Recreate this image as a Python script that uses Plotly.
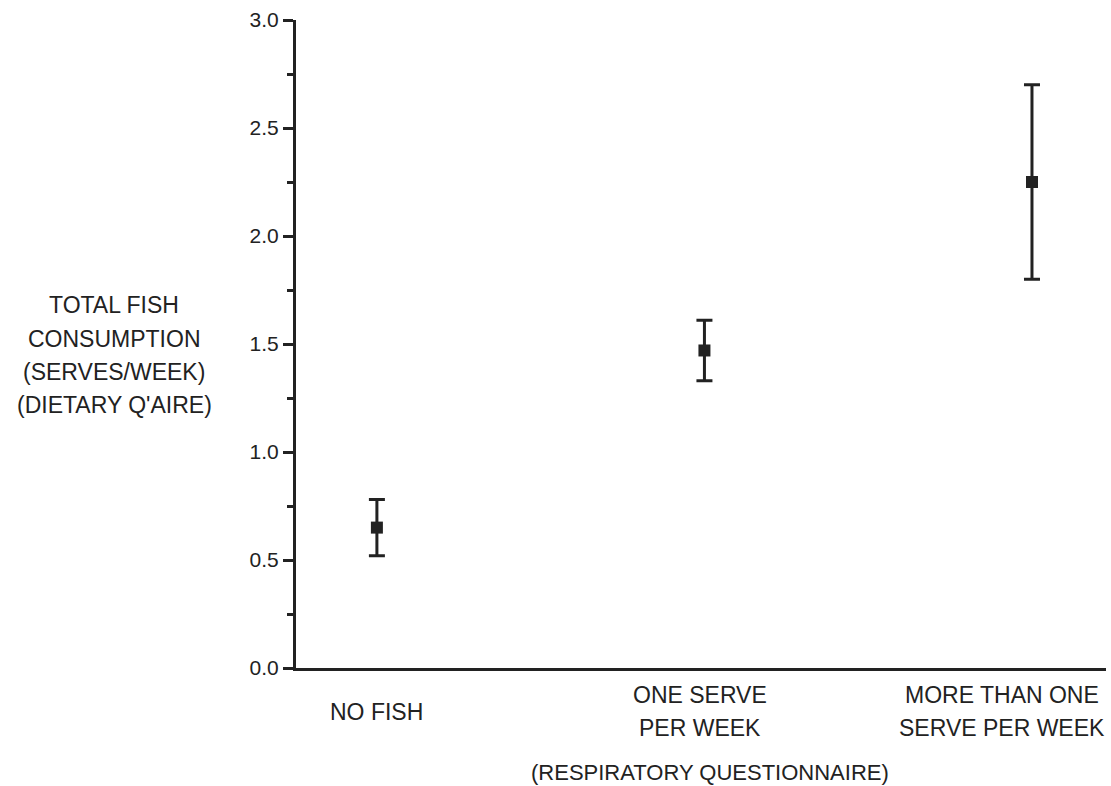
import plotly.graph_objects as go

categories = ["NO FISH", "ONE SERVE<br>PER WEEK", "MORE THAN ONE<br>SERVE PER WEEK"]
x_pos = [0, 1, 2]
means = [0.65, 1.47, 2.25]
upper = [0.78, 1.61, 2.70]
lower = [0.52, 1.33, 1.80]
y_ticks = [0.0, 0.5, 1.0, 1.5, 2.0, 2.5, 3.0]
y_ticklabels = ["0.0", "0.5", "1.0", "1.5", "2.0", "2.5", "3.0"]
y_title_lines = ["TOTAL FISH", "CONSUMPTION", "(SERVES/WEEK)", "(DIETARY Q'AIRE)"]
x_title = "(RESPIRATORY QUESTIONNAIRE)"

INK = "#222222"
FONT = "Liberation Sans, Arial, Helvetica, sans-serif"

W, H = 1111, 786
L, R, T, B = 296, 5, 20, 118
PLOT_BOTTOM = H - B  # 668

fig = go.Figure()
fig.add_trace(go.Scatter(
    x=x_pos, y=means, mode="markers",
    marker=dict(symbol="square", size=12, color=INK),
    error_y=dict(type="data", symmetric=False,
                 array=[u - m for u, m in zip(upper, means)],
                 arrayminus=[m - l for m, l in zip(means, lower)],
                 thickness=3, width=8, color=INK),
    showlegend=False, hoverinfo="skip",
))

fig.update_layout(
    width=W, height=H,
    margin=dict(l=L, r=R, t=T, b=B),
    paper_bgcolor="white", plot_bgcolor="white",
    font=dict(family=FONT, color=INK, size=21),
    xaxis=dict(range=[-0.247, 2.226], showline=True, linewidth=3, linecolor=INK,
               showgrid=False, zeroline=False, showticklabels=False, ticks=""),
    yaxis=dict(range=[0, 3], showline=True, linewidth=3, linecolor=INK,
               showgrid=False, zeroline=False,
               tickvals=y_ticks, ticktext=y_ticklabels,
               ticks="outside", ticklen=10, tickwidth=3, tickcolor=INK,
               tickfont=dict(size=21, family=FONT, color=INK),
               minor=dict(dtick=0.25, ticks="outside", ticklen=6, tickwidth=3, tickcolor=INK)),
)

annotations = []
# category labels (split into lines for exact spacing)
cat_layout = [
    (0, 0, [712]),
    (1, -4, [695, 728]),
    (2, -30, [695, 728]),
]
for (xi, xs, ys), label in zip(cat_layout, categories):
    lines = label.split("<br>")
    for line, py in zip(lines, ys):
        annotations.append(dict(text=line, x=x_pos[xi], xref="x", xshift=xs,
                                y=0, yref="paper", yshift=PLOT_BOTTOM - py,
                                xanchor="center", yanchor="middle", showarrow=False,
                                font=dict(size=23, family=FONT, color=INK)))
# x title
annotations.append(dict(text=x_title, x=1, xref="x", xshift=6,
                        y=0, yref="paper", yshift=PLOT_BOTTOM - 772,
                        xanchor="center", yanchor="middle", showarrow=False,
                        font=dict(size=22, family=FONT, color=INK)))
# y title lines
for line, py in zip(y_title_lines, [305, 339, 372, 405]):
    annotations.append(dict(text=line, x=0, xref="paper", xshift=114 - L,
                            y=0, yref="paper", yshift=PLOT_BOTTOM - py,
                            xanchor="center", yanchor="middle", showarrow=False,
                            font=dict(size=23, family=FONT, color=INK)))
fig.update_layout(annotations=annotations)

fig.write_html("out.html")
